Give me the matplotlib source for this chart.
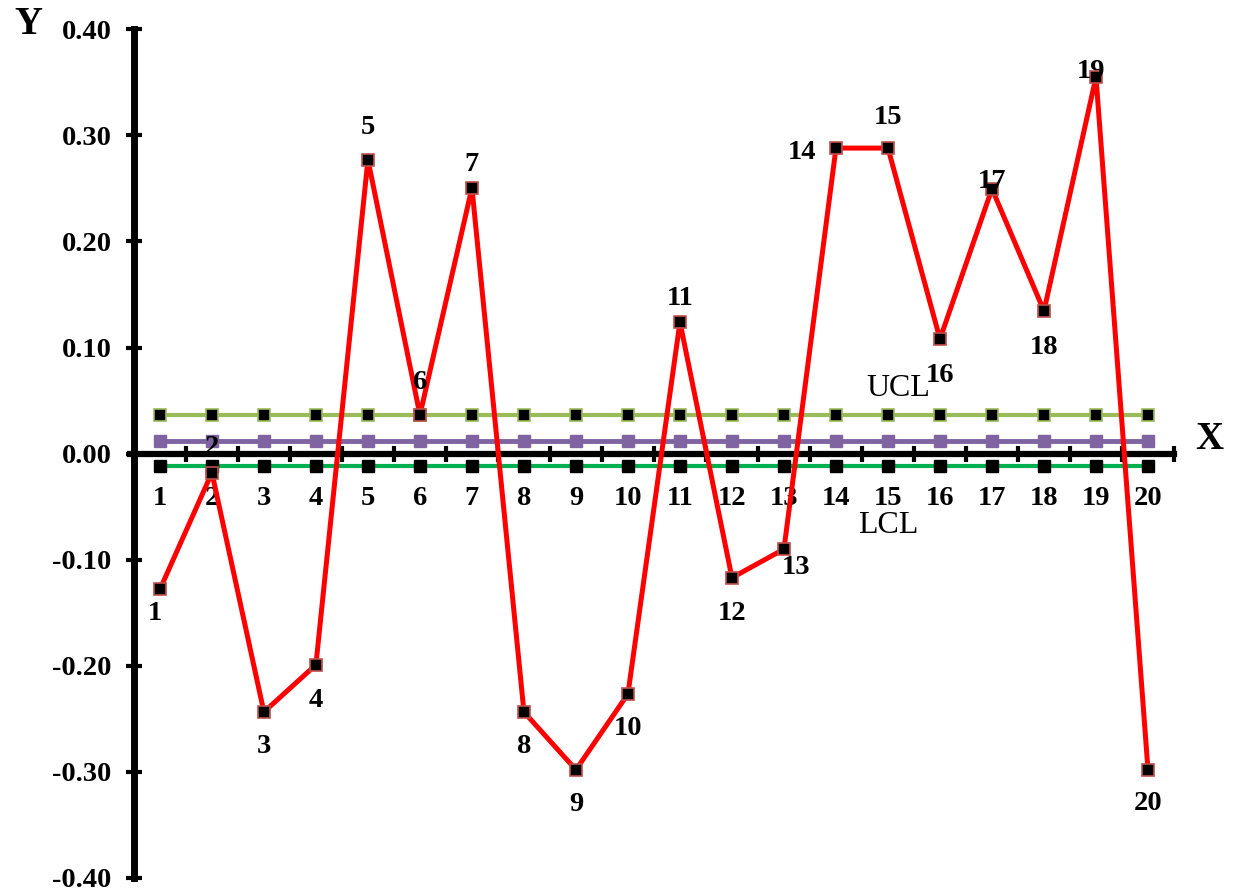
import matplotlib
matplotlib.use('Agg')
import matplotlib.pyplot as plt
import numpy as np

plt.rcParams['font.family'] = ['Liberation Serif', 'DejaVu Serif']

# sample numbers and measured values
samples = list(range(1, 21))
values = [-0.128, -0.018, -0.2435, -0.199, 0.277, 0.0365, 0.2505, -0.2435, -0.298, -0.2265,
          0.124, -0.117, -0.090, 0.288, 0.288, 0.108, 0.2496, 0.1345, 0.355, -0.298]

# control limits
ucl = 0.036
cl = 0.012
lcl = -0.012

yticks = [-0.4, -0.3, -0.2, -0.1, 0.0, 0.1, 0.2, 0.3, 0.4]
ytick_labels = ['-0.40', '-0.30', '-0.20', '-0.10', '0.00', '0.10', '0.20', '0.30', '0.40']

# offset of each point label, in points
label_offsets = [(-3.6, -17), (0, 18), (0, -25), (0, -26), (0, 23), (0, 23), (0, 17), (0, -25),
                 (0, -25), (0, -25), (0, 17), (0, -26), (8.6, -13), (-24.5, -3), (0, 22),
                 (0, -26), (0, 5), (0, -26), (-3.6, 3.6), (0, -24)]

fig = plt.figure(figsize=(12.38, 8.92), dpi=100)
ax = fig.add_axes([0.1048, 0.0157, 0.8435, 0.9515])

ax.plot(samples, [ucl] * 20, color='#9BBB59', lw=3, marker='s', ms=9,
        mfc='black', mec='#9BBB59', mew=1.2, clip_on=False, zorder=3)
ax.plot(samples, [cl] * 20, color='#8064A2', lw=3.5, marker='s', ms=9,
        mfc='#8064A2', mec='#8064A2', clip_on=False, zorder=3)
ax.plot(samples, [lcl] * 20, color='#00B050', lw=3, marker='s', ms=8.5,
        mfc='black', mec='black', clip_on=False, zorder=3)
ax.plot(samples, values, color='#FF0000', lw=3.6, marker='s', ms=8,
        mfc='black', mec='#C0504D', mew=1.2, clip_on=False, zorder=4)

for x, y, off in zip(samples, values, label_offsets):
    ax.annotate(str(x), (x, y), xytext=off, textcoords='offset points',
                ha='center', va='center', fontsize=20.5, fontweight='bold', zorder=5)

ax.text(15.2, 0.061, 'UCL', fontsize=23, ha='center', va='center')
ax.text(15.0, -0.068, 'LCL', fontsize=23, ha='center', va='center')

ax.set_xlim(0.42, 20.5)
ax.set_ylim(-0.4, 0.4)

ax.spines['left'].set_position(('data', 0.5))
ax.spines['bottom'].set_position(('data', 0))
ax.spines['top'].set_visible(False)
ax.spines['right'].set_visible(False)
ax.spines['left'].set_linewidth(5)
ax.spines['bottom'].set_linewidth(4.5)
ax.spines['bottom'].set_bounds(0.42, 20.5)

ax.set_yticks(yticks)
ax.set_yticklabels(ytick_labels, fontsize=20.5, fontweight='bold')
ax.tick_params(axis='y', direction='inout', length=12, width=3, pad=10)

# ticks between categories, labels under each category
ax.set_xticks(np.arange(1.5, 21, 1.0))
ax.set_xticklabels([])
ax.set_xticks(samples, minor=True)
ax.set_xticklabels([str(s) for s in samples], minor=True, fontsize=20.5, fontweight='bold')
ax.tick_params(axis='x', which='major', direction='inout', length=12, width=3)
ax.tick_params(axis='x', which='minor', length=0, pad=23)

fig.text(0.0226, 0.972, 'Y', fontsize=28, fontweight='bold', ha='center', va='center')
fig.text(0.977, 0.507, 'X', fontsize=28, fontweight='bold', ha='center', va='center')

fig.savefig('out.png', dpi=100)
